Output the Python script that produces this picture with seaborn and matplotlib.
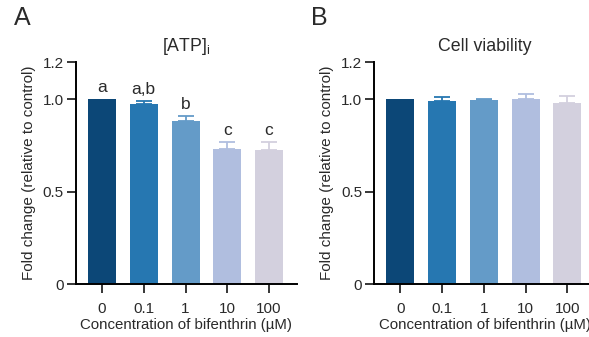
import matplotlib
matplotlib.use("Agg")
import matplotlib.pyplot as plt
import seaborn as sns
import numpy as np
import pandas as pd

sns.set_style("ticks")
plt.rcParams['font.family'] = ['Liberation Sans', 'DejaVu Sans']

concentrations = ["0", "0.1", "1", "10", "100"]
atp_mean = [1.0, 0.975, 0.883, 0.731, 0.724]
atp_sem = [0.0, 0.014, 0.023, 0.037, 0.044]
atp_letters = ["a", "a,b", "b", "c", "c"]
viab_mean = [1.0, 0.987, 0.996, 1.0, 0.978]
viab_sem = [0.0, 0.024, 0.006, 0.025, 0.041]
bar_colors = ["#0c4777", "#2677b1", "#649bc8", "#b0bedf", "#d3d0de"]

yticks = [0, 0.5, 1.0, 1.2]
ytick_labels = ["0", "0.5", "1.0", "1.2"]

fig = plt.figure(figsize=(5.89, 3.37), dpi=100)
axA = fig.add_axes([0.1285, 0.1564, 0.3752, 0.6596])
axB = fig.add_axes([0.635, 0.1564, 0.3752, 0.6596])

txt = "#2a2a2a"

def panel(ax, means, sems, title, letters=None):
    df = pd.DataFrame({"conc": concentrations, "val": means})
    sns.barplot(data=df, x="conc", y="val", hue="conc", palette=bar_colors,
                legend=False, errorbar=None, width=0.67, ax=ax, saturation=1,
                linewidth=0)
    for i, (m, s, c) in enumerate(zip(means, sems, bar_colors)):
        if s > 0:
            ax.errorbar(i, m, yerr=[[0], [s]], fmt="none", ecolor=c,
                        elinewidth=1.3, capsize=5.5, capthick=1.3, zorder=1)
        if letters is not None:
            ax.annotate(letters[i], (i, m + s), xytext=(0, 3),
                        textcoords="offset points", ha="center", va="bottom",
                        fontsize=12.5, color=txt)
    ax.set_ylim(0, 1.2)
    ax.set_xlim(-0.63, 4.66)
    ax.set_yticks(yticks)
    ax.set_yticklabels(ytick_labels)
    ax.set_ylabel("Fold change (relative to control)", fontsize=11, color=txt, labelpad=5)
    ax.set_xlabel("Concentration of bifenthrin (µM)", fontsize=10.8, color=txt, labelpad=2)
    ax.set_title(title, fontsize=12.8, color=txt, pad=8)
    for sp in ["top", "right"]:
        ax.spines[sp].set_visible(False)
    for sp in ["left", "bottom"]:
        ax.spines[sp].set_linewidth(1.4)
        ax.spines[sp].set_color("black")
    ax.tick_params(axis="y", length=6.5, width=1.1, labelsize=11, colors="black",
                   labelcolor=txt, pad=2)
    ax.tick_params(axis="x", length=6.5, width=1.1, labelsize=11, colors="black",
                   labelcolor=txt, pad=6)

panel(axA, atp_mean, atp_sem, r"[ATP]$_\mathregular{i}$", atp_letters)
panel(axB, viab_mean, viab_sem, "Cell viability")

fig.text(14 / 589, 1 - 18 / 337, "A", fontsize=18, color=txt, va="center", ha="left")
fig.text(311 / 589, 1 - 18 / 337, "B", fontsize=18, color=txt, va="center", ha="left")

fig.savefig("out.png", dpi=100)
